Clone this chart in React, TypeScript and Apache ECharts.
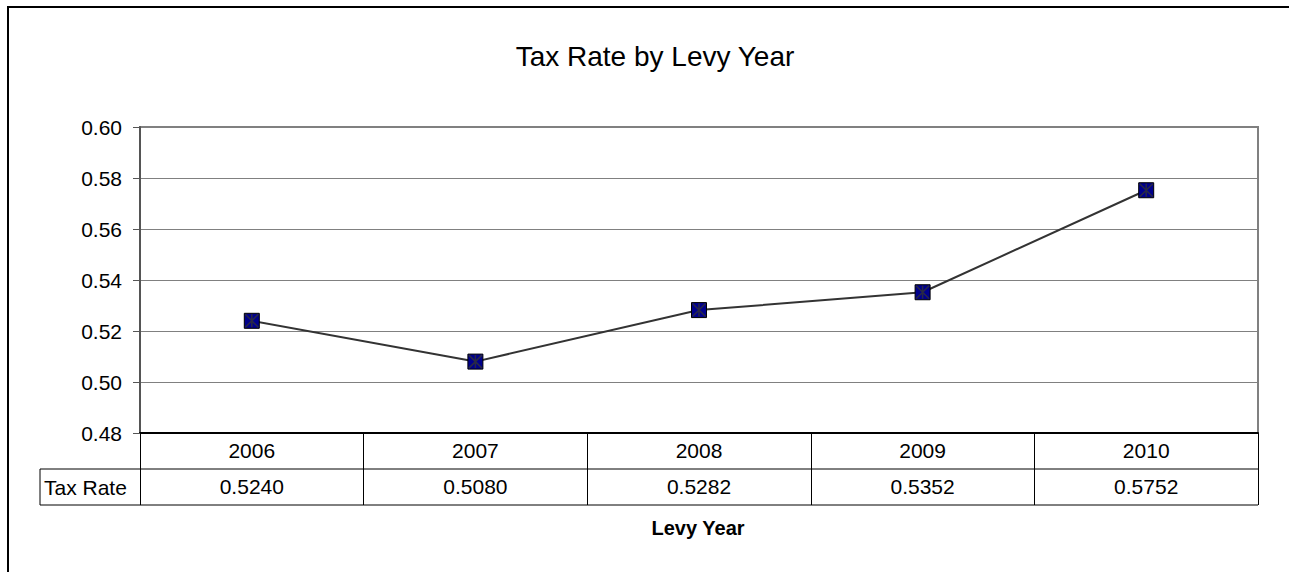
import React, { useEffect, useRef } from "react";
import * as echarts from "echarts";

const years = ["2006", "2007", "2008", "2009", "2010"];
const taxRates = [0.524, 0.508, 0.5282, 0.5352, 0.5752];
const yTicks = { min: 0.48, max: 0.6, interval: 0.02 };
const titleText = "Tax Rate by Levy Year";
const rowLabel = "Tax Rate";
const axisTitle = "Levy Year";

const W = 1289;
const H = 572;
const gridLeft = 140;
const gridTop = 127;
const gridRight = 31;
const gridBottom = 139;
const rowH = 36;

export default function App() {
  const ref = useRef<HTMLDivElement>(null);
  useEffect(() => {
    if (!ref.current) return;
    const chart = echarts.init(ref.current, null, { renderer: "svg" });
    const plotRight = W - gridRight;
    const axisY = H - gridBottom;
    const font = "Liberation Sans, Arial, sans-serif";
    const fs = 21;
    chart.setOption({
      animation: false,
      backgroundColor: "#fff",
      textStyle: { fontFamily: font },
      title: {
        text: titleText,
        left: 650,
        top: 37,
        textAlign: "center",
        textStyle: { fontSize: 28, fontWeight: "normal", color: "#000", fontFamily: font },
      },
      grid: {
        left: gridLeft,
        top: gridTop,
        right: gridRight,
        bottom: gridBottom,
        show: true,
        borderColor: "#808080",
        borderWidth: 2,
        backgroundColor: "transparent",
      },
      xAxis: [
        {
          type: "category",
          data: years,
          boundaryGap: true,
          position: "bottom",
          axisLine: { show: true, lineStyle: { color: "#000", width: 2 } },
          axisTick: { show: true, length: rowH * 2, alignWithLabel: false, lineStyle: { color: "#000", width: 1 } },
          axisLabel: { color: "#000", fontSize: fs, margin: 7, fontFamily: font },
          splitLine: { show: false },
        },
        {
          type: "category",
          data: taxRates.map((v) => v.toFixed(4)),
          boundaryGap: true,
          position: "bottom",
          offset: rowH,
          axisLine: { show: false },
          axisTick: { show: false },
          axisLabel: { color: "#000", fontSize: fs, margin: 7, fontFamily: font },
          splitLine: { show: false },
        },
      ],
      yAxis: {
        type: "value",
        min: yTicks.min,
        max: yTicks.max,
        interval: yTicks.interval,
        axisLine: { show: true, lineStyle: { color: "#555", width: 2 } },
        axisTick: { show: true, length: 7, lineStyle: { color: "#555" } },
        axisLabel: { color: "#000", fontSize: fs, margin: 18, fontFamily: font, formatter: (v: number) => v.toFixed(2) },
        splitLine: { show: true, lineStyle: { color: "#808080", width: 1 } },
      },
      series: [
        {
          type: "line",
          data: taxRates,
          xAxisIndex: 0,
          symbol: "rect",
          symbolSize: 15,
          lineStyle: { color: "#333", width: 2 },
          itemStyle: { color: "#00008c", borderColor: "#000", borderWidth: 1 },
          z: 3,
        },
        {
          type: "scatter",
          data: taxRates,
          xAxisIndex: 0,
          symbol: "path://M0,0L10,10M10,0L0,10M5,0L5,10",
          symbolSize: 13,
          itemStyle: { color: "none", borderColor: "#333", borderWidth: 1.5 },
          z: 4,
        },
      ],
      graphic: [
        {
          type: "rect",
          shape: { x: 8, y: 7, width: W + 20, height: H + 20 },
          style: { fill: "none", stroke: "#000", lineWidth: 2 },
          silent: true,
        },
        {
          type: "line",
          shape: { x1: 40, y1: axisY + rowH, x2: plotRight, y2: axisY + rowH },
          style: { stroke: "#000", lineWidth: 1 },
        },
        {
          type: "line",
          shape: { x1: 40, y1: axisY + rowH * 2, x2: plotRight, y2: axisY + rowH * 2 },
          style: { stroke: "#000", lineWidth: 1 },
        },
        {
          type: "line",
          shape: { x1: 40, y1: axisY + rowH, x2: 40, y2: axisY + rowH * 2 },
          style: { stroke: "#000", lineWidth: 1 },
        },
        {
          type: "text",
          x: 44,
          y: axisY + rowH * 1.5,
          style: { text: rowLabel, fontSize: fs, fill: "#000", fontFamily: font, textVerticalAlign: "middle", verticalAlign: "middle" },
        },
        {
          type: "text",
          x: 698,
          y: 528,
          style: {
            text: axisTitle,
            fontSize: 20,
            fontWeight: "bold",
            fill: "#000",
            fontFamily: font,
            align: "center",
            textAlign: "center",
            verticalAlign: "middle",
            textVerticalAlign: "middle",
          },
        },
      ],
    });
    return () => chart.dispose();
  }, []);
  return (
    <div
      ref={ref}
      style={{ position: "absolute", left: 0, top: 0, width: W, height: H }}
    />
  );
}
